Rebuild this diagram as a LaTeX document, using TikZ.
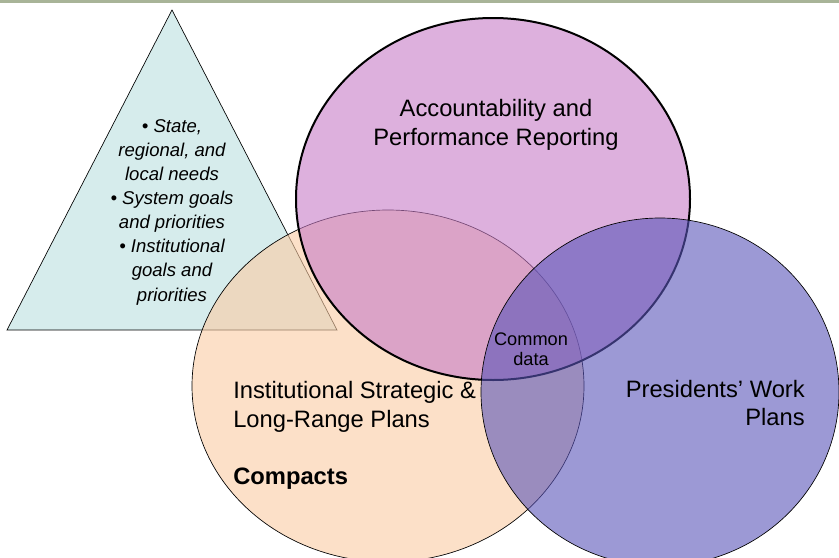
\documentclass[tikz,border=0pt]{standalone}
\usepackage{fontspec}
\setmainfont{Liberation Sans}
\usetikzlibrary{shapes.geometric,positioning}
\definecolor{barcol}{RGB}{168,180,152}
\definecolor{trifill}{RGB}{187,223,223}
\definecolor{acctfill}{RGB}{198,123,198}
\definecolor{planfill}{RGB}{250,203,163}
\definecolor{workfill}{RGB}{90,85,185}
\tikzset{
    venn/.style={
        ellipse, draw, inner sep=0pt, fill opacity=0.6
    }
}

\begin{document}
\begin{tikzpicture}[
        x=0.75pt, y=-0.75pt,
        bigtext/.style={inner sep=0pt, font=\fontsize{17.8}{21.5}\selectfont},
        tritext/.style={inner sep=0pt, align=center,
            font=\fontsize{13.9}{18.1}\selectfont\itshape},
        smalltext/.style={inner sep=0pt, align=center,
            font=\fontsize{13.65}{15}\selectfont}
      ]

  \useasboundingbox (0,0) rectangle (839,557);
  \fill[barcol] (0,0) rectangle (839,3);

  % needs triangle
  \coordinate (apex) at (172,10);
  \coordinate (baseR) at (337,330);
  \coordinate (baseL) at (7,330);
  \filldraw[fill=trifill, fill opacity=0.6, line width=0.5pt] (apex) -- (baseR) -- (baseL) -- cycle;

  % the three sets
  \node[venn, fill=planfill, line width=0.5pt,
        minimum width=294pt, minimum height=264pt] (plans) at (388,386) {};
  \node[venn, fill=acctfill, line width=1.5pt,
        minimum width=295.5pt, minimum height=271.5pt] (acct) at (493,199) {};
  \node[venn, fill=workfill, line width=0.5pt,
        minimum width=268.5pt, minimum height=261pt] (work) at (660,392) {};

  % labels
  \node[tritext] (needs) at (172,212)
    {• State,\\regional, and\\local needs\\• System goals\\and priorities\\• Institutional\\goals and\\priorities};
  \node[bigtext, align=center] (acctlabel) at (496,125)
    {Accountability and\\Performance Reporting};
  \node[bigtext, align=left, anchor=west] (planlabel) at (233,435.5)
    {Institutional Strategic \&\\Long-Range Plans\\[21.5pt]\textbf{Compacts}};
  \node[bigtext, align=right, anchor=east] (worklabel) at (805,403)
    {Presidents’ Work\\Plans};
  \node[smalltext] (common) at (531,349) {Common\\data};

\end{tikzpicture}
\end{document}
